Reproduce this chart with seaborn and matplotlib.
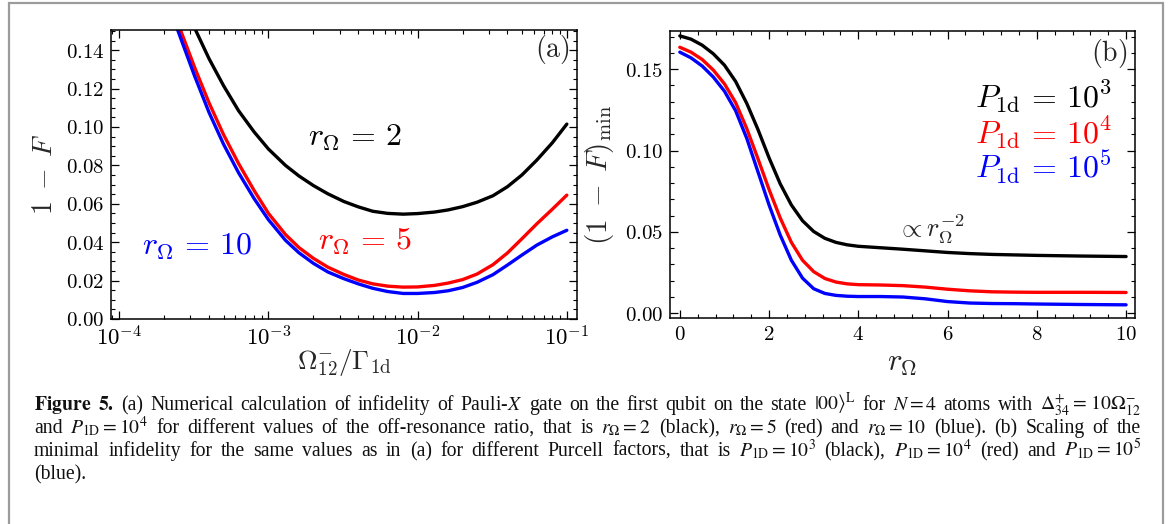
import numpy as np
import pandas as pd
import matplotlib
matplotlib.use("Agg")
import matplotlib.pyplot as plt
import seaborn as sns
from matplotlib.ticker import MultipleLocator, LogLocator, NullFormatter, FuncFormatter
from matplotlib.patches import Rectangle

# ---------------- data ----------------
# (a) infidelity versus Omega_12^- / Gamma_1d for three off-resonance ratios
omega_ratio = [2.2e-4, 2.6e-4, 3.2e-4, 4.0e-4, 5.0e-4, 6.3e-4, 8.0e-4, 1.0e-3,
               1.3e-3, 1.6e-3, 2.0e-3, 2.5e-3, 3.2e-3, 4.0e-3, 5.0e-3, 6.3e-3,
               8.0e-3, 1.0e-2, 1.3e-2, 1.6e-2, 2.0e-2, 2.5e-2, 3.2e-2, 4.0e-2,
               5.0e-2, 6.3e-2, 8.0e-2, 1.0e-1]
infid_r2 = [0.182, 0.168, 0.1515, 0.1355, 0.1215, 0.1085, 0.0975, 0.0885,
            0.0800, 0.0745, 0.0695, 0.0652, 0.0612, 0.0584, 0.0561, 0.0550,
            0.0546, 0.0549, 0.0557, 0.0568, 0.0585, 0.0608, 0.0642, 0.0689,
            0.0750, 0.0828, 0.0918, 0.1015]
infid_r5 = [0.165, 0.1495, 0.131, 0.1125, 0.0960, 0.0810, 0.0670, 0.0550,
            0.0440, 0.0372, 0.0316, 0.0270, 0.0232, 0.0203, 0.0183, 0.0171,
            0.0166, 0.0167, 0.0175, 0.0187, 0.0205, 0.0234, 0.0283, 0.0344,
            0.0418, 0.0496, 0.0572, 0.0645]
infid_r10 = [0.161, 0.1455, 0.1265, 0.1075, 0.0910, 0.0762, 0.0628, 0.0517,
             0.0410, 0.0345, 0.0290, 0.0245, 0.0210, 0.0183, 0.0160, 0.0143,
             0.0133, 0.0133, 0.0138, 0.0147, 0.0164, 0.0191, 0.0231, 0.0281,
             0.0333, 0.0385, 0.0428, 0.0462]
r_labels = ["2", "5", "10"]

# (b) minimal infidelity versus r_Omega for three Purcell factors
r_omega = [0, 0.25, 0.5, 0.75, 1.0, 1.25, 1.5, 1.75, 2.0, 2.25, 2.5, 2.75,
           3.0, 3.25, 3.5, 3.75, 4.0, 4.5, 5.0, 5.5, 6.0, 6.5, 7.0, 7.5,
           8.0, 9.0, 10.0]
min_p3 = [0.1705, 0.1685, 0.1648, 0.1595, 0.1525, 0.1425, 0.1290, 0.1130,
          0.0955, 0.0795, 0.0665, 0.0568, 0.0502, 0.0460, 0.0435, 0.0420,
          0.0411, 0.0402, 0.0393, 0.0383, 0.0373, 0.0366, 0.0361, 0.0358,
          0.0355, 0.0351, 0.0348]
min_p4 = [0.1635, 0.1605, 0.1560, 0.1495, 0.1410, 0.1295, 0.1135, 0.0950,
          0.0760, 0.0585, 0.0435, 0.0325, 0.0255, 0.0213, 0.0191, 0.0180,
          0.0175, 0.0173, 0.0169, 0.0160, 0.0147, 0.0137, 0.0131, 0.0129,
          0.0128, 0.0128, 0.0127]
min_p5 = [0.1605, 0.1570, 0.1520, 0.1452, 0.1365, 0.1245, 0.1075, 0.0870,
          0.0665, 0.0480, 0.0325, 0.0215, 0.0150, 0.0121, 0.0109, 0.0104,
          0.0102, 0.0102, 0.0099, 0.0088, 0.0071, 0.0062, 0.0059, 0.0058,
          0.0056, 0.0053, 0.0051]
p_exponents = ["3", "4", "5"]

series_colors = ["#000000", "#ff0000", "#0000ff"]

caption_lines = [
    [r"$\mathbf{Figure}$", r"$\mathbf{5.}$", "(a)", "Numerical", "calculation", "of", "infidelity",
     "of", "Pauli-$X$", "gate", "on", "the", "first", "qubit", "on", "the", "state",
     r"$|00\rangle^{\rm L}$", "for", r"$N=4$", "atoms", "with",
     r"$\Delta^{+}_{34}=\,10\Omega^{-}_{12}$"],
    ["and", r"$P_{\rm 1D}=10^{4}$", "for", "different", "values", "of", "the",
     "off-resonance", "ratio,", "that", "is", r"$r_{\Omega}=2$", "(black),",
     r"$r_{\Omega}=5$", "(red)", "and", r"$r_{\Omega}=10$", "(blue).", "(b)",
     "Scaling", "of", "the"],
    ["minimal", "infidelity", "for", "the", "same", "values", "as", "in", "(a)",
     "for", "different", "Purcell", "factors,", "that", "is",
     r"$P_{\rm 1D}=10^{3}$", "(black),", r"$P_{\rm 1D}=10^{4}$", "(red)", "and",
     r"$P_{\rm 1D}=10^{5}$"],
    ["(blue)."],
]

# ---------------- style ----------------
sns.set_style("ticks")
plt.rcParams["mathtext.fontset"] = "cm"
plt.rcParams["font.family"] = ["DejaVu Serif"]
plt.rcParams["axes.linewidth"] = 1.1

W, H = 1171, 524
fig = plt.figure(figsize=(W / 100, H / 100), dpi=100)
fig.patch.set_facecolor("white")


def px_box(left, top, right, bottom):
    return [left / W, 1 - bottom / H, (right - left) / W, (bottom - top) / H]


ax_a = fig.add_axes(px_box(111, 30, 577, 319))
ax_b = fig.add_axes(px_box(670, 31, 1135, 318))

# panel (a)
df_a = pd.DataFrame({
    "x": omega_ratio * 3,
    "y": infid_r2 + infid_r5 + infid_r10,
    "series": sum([[r] * len(omega_ratio) for r in r_labels], []),
})
sns.lineplot(data=df_a, x="x", y="y", hue="series", hue_order=r_labels,
             palette=series_colors, linewidth=2.4, legend=False, ax=ax_a,
             estimator=None)
ax_a.set_xscale("log")
ax_a.set_xlim(8.8e-5, 0.117)
ax_a.set_ylim(0, 0.1505)

# panel (b)
df_b = pd.DataFrame({
    "x": r_omega * 3,
    "y": min_p3 + min_p4 + min_p5,
    "series": sum([[p] * len(r_omega) for p in p_exponents], []),
})
sns.lineplot(data=df_b, x="x", y="y", hue="series", hue_order=p_exponents,
             palette=series_colors, linewidth=2.4, legend=False, ax=ax_b,
             estimator=None)
ax_b.set_xlim(-0.22, 10.2)
ax_b.set_ylim(-0.003, 0.1735)

# ticks
for ax in (ax_a, ax_b):
    ax.tick_params(which="both", direction="in", top=True, right=True,
                   colors="black", labelsize=15, pad=5)
    ax.tick_params(which="major", length=6, width=0.9)
    ax.tick_params(which="minor", length=3.2, width=0.8)
    for s in ax.spines.values():
        s.set_color("black")
    ax.set_facecolor("white")
    ax.grid(False)

ax_a.xaxis.set_major_locator(LogLocator(base=10, numticks=10))
ax_a.xaxis.set_minor_locator(LogLocator(base=10, subs=np.arange(2, 10), numticks=20))
ax_a.xaxis.set_minor_formatter(NullFormatter())
ax_a.xaxis.set_major_formatter(FuncFormatter(
    lambda v, p: r"$10^{%d}$" % int(round(np.log10(v)))))
ax_a.tick_params(axis="x", which="major", labelsize=16.5)
ax_a.yaxis.set_major_locator(MultipleLocator(0.02))
ax_a.yaxis.set_minor_locator(MultipleLocator(0.005))
ax_a.yaxis.set_major_formatter(FuncFormatter(lambda v, p: r"$%.2f$" % v))

ax_b.xaxis.set_major_locator(MultipleLocator(2))
ax_b.xaxis.set_minor_locator(MultipleLocator(0.4))
ax_b.xaxis.set_major_formatter(FuncFormatter(lambda v, p: r"$%d$" % int(round(v))))
ax_b.yaxis.set_major_locator(MultipleLocator(0.05))
ax_b.yaxis.set_minor_locator(MultipleLocator(0.01))
ax_b.yaxis.set_major_formatter(FuncFormatter(lambda v, p: r"$%.2f$" % v))

# axis labels
ax_a.set_ylabel(r"$1\;-\;F$", fontsize=20, va="center")
ax_a.yaxis.set_label_coords(-0.142, 0.5)
ax_a.set_xlabel(r"$\Omega^{-}_{12}/\Gamma_{\rm 1d}$", fontsize=19.5, va="center")
ax_a.xaxis.set_label_coords(0.5, -0.15)
ax_b.set_ylabel(r"$(1\;-\;F)_{\rm min}$", fontsize=21, va="center")
ax_b.yaxis.set_label_coords(-0.152, 0.5)
ax_b.set_xlabel(r"$r_{\Omega}$", fontsize=22, va="center")
ax_b.xaxis.set_label_coords(0.5, -0.155)

# panel tags and curve annotations
ax_a.text(0.985, 0.931, r"$\mathrm{(a)}$", transform=ax_a.transAxes,
          fontsize=20, ha="right", va="center")
ax_b.text(0.983, 0.923, r"$\mathrm{(b)}$", transform=ax_b.transAxes,
          fontsize=20, ha="right", va="center")

r_pos = [(0.4227, 0.5986), (0.4442, 0.2388), (0.0665, 0.2215)]
for lab, col, (x, y) in zip(r_labels, series_colors, r_pos):
    ax_a.text(x, y, r"$r_{\Omega}\,=\,%s$" % lab, transform=ax_a.transAxes,
              color=col, fontsize=23, ha="left", va="baseline")

p_ys = [0.735, 0.610, 0.488]
for ex, col, y in zip(p_exponents, series_colors, p_ys):
    ax_b.text(0.9505, y, r"$P_{\rm 1d}\,=\,10^{%s}$" % ex, transform=ax_b.transAxes,
              color=col, fontsize=23, ha="right", va="baseline")
ax_b.text(0.488, 0.28, r"$\propto r_{\Omega}^{-2}$", transform=ax_b.transAxes,
          fontsize=19, ha="left", va="baseline")

# outer frame around figure and caption
fig.patches.append(Rectangle((9 / W, -0.1), (1163 - 9) / W, 1.1 - 3 / H,
                             transform=fig.transFigure, fill=False,
                             edgecolor="#9c9c9c", linewidth=1.6))

# caption, justified between the margins
fig.canvas.draw()
renderer = fig.canvas.get_renderer()
cap_left, cap_right = 34, 1141
cap_baselines = [410, 433, 456, 479]
for i, words in enumerate(caption_lines):
    y = 1 - cap_baselines[i] / H
    items = [fig.text(0, y, w, fontsize=14.2, family="Liberation Serif",
                      math_fontfamily="stix", va="baseline", ha="left", color="#111111")
             for w in words]
    widths = [t.get_window_extent(renderer).width for t in items]
    if i == len(caption_lines) - 1 or len(words) == 1:
        gap = 4.5
    else:
        gap = max(3.0, (cap_right - cap_left - sum(widths)) / (len(words) - 1))
    x = cap_left
    for t, w in zip(items, widths):
        t.set_x(x / W)
        x += w + gap

fig.savefig("out.png", dpi=100, facecolor="white")
